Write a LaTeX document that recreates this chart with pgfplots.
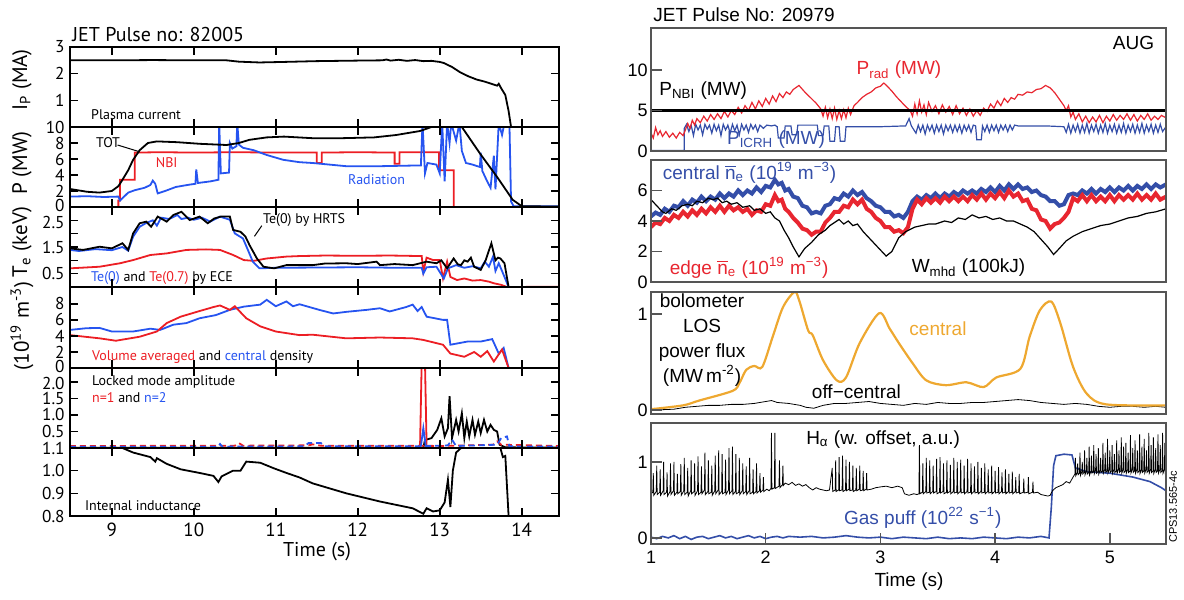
\documentclass[border=0pt]{standalone}
\usepackage{fontspec}
\setmainfont{Liberation Sans}
\newfontfamily\myr{PT Sans}
\usepackage{pgfplots}
\pgfplotsset{compat=1.18}
\definecolor{jred}{RGB}{236,30,36}
\definecolor{jblue}{RGB}{38,84,240}
\definecolor{ared}{RGB}{232,38,48}
\definecolor{ablue}{RGB}{52,78,168}
\definecolor{aorange}{RGB}{238,168,48}
\definecolor{agray}{RGB}{85,85,85}
\newcommand{\nb}{\ensuremath{\overline{\mbox{n}}}}
\pgfplotsset{
  lp/.style={scale only axis, width=244.5pt, anchor=south west,
    xmin=8.49, xmax=14.455, xtick={9,10,11,12,13,14}, xticklabels={},
    tick align=inside, tick pos=both, ticklabel pos=left, major tick length=4pt,
    axis line style={line width=1.1pt}, tick style={black, line width=0.8pt},
    yticklabel style={font=\myr\fontsize{8.6}{8.6}\selectfont, inner sep=0pt, xshift=-2.5pt},
    axis on top},
  rp/.style={scale only axis, width=257.5pt, anchor=south west,
    xmin=1, xmax=5.49, xtick=\empty, ytick pos=left, tick align=inside,
    major tick length=5.5pt, axis line style={agray, line width=0.7pt},
    tick style={agray, line width=0.7pt},
    yticklabel style={font=\fontsize{9}{10}\selectfont, inner sep=1.5pt},
    axis on top},
  upl/.style={extra y tick style={yticklabel style={yshift=1pt}}},
  dnl/.style={extra y tick style={yticklabel style={yshift=-1pt}}},
}
\tikzset{
  lt/.style={font=\myr\fontsize{7}{8}\selectfont, inner sep=0pt},
  rt/.style={font=\fontsize{9.5}{11}\selectfont, inner sep=0pt},
}
\begin{document}
\begin{tikzpicture}
\useasboundingbox (0,0) rectangle (592pt,300pt);

% ---------------- left figure ----------------
\node[anchor=west, font=\myr\fontsize{10}{12}\selectfont, inner sep=0pt] at (36pt,282.5pt) {JET Pulse no: 82005};
\node[rotate=90, font=\myr\fontsize{10.5}{12}\selectfont] at (11pt,260pt) {I\textsubscript{P} (MA)};
\node[rotate=90, font=\myr\fontsize{10.5}{12}\selectfont] at (11pt,218.5pt) {P (MW)};
\node[rotate=90, font=\myr\fontsize{10.5}{12}\selectfont] at (11pt,179pt) {T\textsubscript{e} (keV)};
\node[rotate=90, font=\myr\fontsize{10.5}{12}\selectfont] at (11pt,137pt) {(10\textsuperscript{19} m\textsuperscript{-3})};
\node[font=\myr\fontsize{10}{12}\selectfont] at (158.5pt,24pt) {Time (s)};

\begin{axis}[lp, at={(35pt,236.5pt)}, height=40pt, ymin=0, ymax=3, ytick={1,2,3}, yticklabels={1,2,3}]
\addplot[black, line width=0.9pt] coordinates {(8.49,2.5)(9.0,2.5)(9.5,2.51)(10.0,2.5)(10.4,2.5)(10.55,2.45)(10.8,2.42)(11.1,2.44)(11.5,2.47)(12.0,2.49)(12.3,2.5)(12.35,2.53)(12.4,2.49)(12.5,2.52)(12.6,2.48)(12.7,2.51)(12.8,2.47)(12.9,2.48)(13.0,2.44)(13.05,2.4)(13.15,2.25)(13.25,2.05)(13.35,1.9)(13.45,1.78)(13.55,1.7)(13.65,1.6)(13.7,1.55)(13.72,1.62)(13.75,1.45)(13.8,1.2)(13.84,0.6)(13.87,0)(14.455,0)};
\node[lt, anchor=west] at (axis cs:8.744,0.45) {Plasma current};
\end{axis}

\begin{axis}[lp, upl, at={(35pt,196.5pt)}, height=40pt, ymin=0, ymax=10, ytick={2,4,6,8,10}, yticklabels={2,4,6,8,10}, extra y ticks={0}, extra y tick labels={0}]
\addplot[jred, line width=0.9pt] coordinates {(8.49,0)(9.08,0)(9.08,0.8)(9.1,0.8)(9.1,3.4)(9.28,3.4)(9.28,6.8)(9.6,6.85)(10.0,6.8)(10.5,6.85)(11.0,6.8)(11.5,6.8)(11.5,5.5)(11.56,5.5)(11.56,6.8)(12.0,6.85)(12.45,6.8)(12.45,5.4)(12.51,5.4)(12.51,6.85)(12.99,6.85)(12.99,4.6)(13.17,4.6)(13.17,0)(14.455,0)};
\addplot[jblue, line width=0.9pt] coordinates {(8.49,1.3)(8.7,1.35)(8.9,1.25)(9.08,1.3)(9.1,0.8)(9.2,1.8)(9.28,2.1)(9.4,2.4)(9.47,2.75)(9.5,3.3)(9.53,2.9)(9.56,1.7)(9.65,2.0)(9.78,2.5)(9.95,2.8)(10.02,2.9)(10.03,4.7)(10.05,3.0)(10.2,3.2)(10.3,3.4)(10.31,10.5)(10.33,4.2)(10.43,4.3)(10.44,8.0)(10.47,7.3)(10.52,7.6)(10.53,10.5)(10.55,7.8)(10.6,7.4)(10.73,7.1)(10.89,6.5)(11.09,5.9)(11.29,5.6)(11.45,5.5)(11.86,5.1)(12.27,5.1)(12.77,5.2)(12.79,10.5)(12.82,4.2)(12.85,5.5)(12.96,5.3)(13.0,4.2)(13.03,10.5)(13.06,3.2)(13.09,10.5)(13.12,8)(13.14,10.5)(13.2,8.3)(13.24,10.5)(13.27,7)(13.32,5.5)(13.4,5.3)(13.49,5.0)(13.5,6.8)(13.52,4.5)(13.57,3.4)(13.62,2.4)(13.66,6.4)(13.68,2.2)(13.72,10.5)(13.76,9)(13.79,10.5)(13.85,10.5)(13.87,0.7)(13.9,0.1)(14.455,0.1)};
\addplot[black, line width=0.9pt] coordinates {(8.49,2.25)(8.7,1.9)(8.85,1.8)(9.0,2.0)(9.08,2.6)(9.13,3.4)(9.2,4.6)(9.26,5.9)(9.34,7.1)(9.44,8.0)(9.55,8.2)(9.8,8.1)(10.07,7.9)(10.4,7.75)(10.55,8.0)(10.68,8.4)(10.89,8.7)(11.1,8.8)(11.45,8.6)(11.8,8.6)(12.2,8.7)(12.47,9.0)(12.76,9.5)(12.9,10.0)(13.0,10.4)(13.2,10.4)(13.27,10)(13.49,6.7)(13.7,3.75)(13.89,0.9)(14.0,0.1)(14.455,0.05)};
\node[lt, anchor=west] at (axis cs:8.805,8.0) {TOT};
\draw[black, line width=0.5pt] (axis cs:9.07,7.75) -- (axis cs:9.34,6.9);
\node[lt, text=jred] at (axis cs:9.67,5.5) {NBI};
\node[lt, text=jblue] at (axis cs:12.23,3.4) {Radiation};
\end{axis}

\begin{axis}[lp, dnl, at={(35pt,156.5pt)}, height=40pt, ymin=0, ymax=3, ytick={0.5,1,1.5,2}, yticklabels={0.5,,1.5,}, extra y ticks={2.5}, extra y tick labels={2.5}]
\addplot[jred, line width=0.9pt] coordinates {(8.49,0.7)(8.85,0.76)(9.1,0.89)(9.26,1.01)(9.47,1.2)(9.67,1.26)(9.91,1.39)(10.15,1.41)(10.32,1.39)(10.48,1.2)(10.61,1.01)(10.73,0.98)(10.89,1.07)(11.13,1.14)(11.29,1.16)(11.6,1.18)(12.0,1.17)(12.4,1.18)(12.78,1.16)(12.8,0.57)(12.84,1.1)(12.92,1.01)(13.0,1.01)(13.04,0.32)(13.09,0.95)(13.13,0.38)(13.21,0.26)(13.3,0.32)(13.4,0.24)(13.5,0.26)(13.6,0.2)(13.66,0.14)(13.75,0.08)(13.82,0)(14.455,0.01)};
\addplot[jblue, line width=0.9pt] coordinates {(8.49,1.39)(8.6,1.35)(8.8,1.42)(9.0,1.38)(9.13,1.5)(9.2,1.36)(9.26,1.89)(9.34,2.26)(9.42,2.4)(9.5,2.5)(9.55,2.3)(9.6,2.6)(9.7,2.55)(9.8,2.7)(9.85,2.55)(9.93,2.6)(10.0,2.52)(10.1,2.6)(10.2,2.45)(10.32,2.64)(10.44,2.52)(10.5,2.01)(10.6,1.82)(10.66,1.39)(10.72,0.95)(10.8,0.7)(11.0,0.72)(11.5,0.73)(12.0,0.74)(12.5,0.72)(12.78,0.72)(12.8,0.5)(12.84,0.74)(12.96,0.76)(13.05,0.32)(13.1,0.7)(13.2,0.82)(13.3,0.72)(13.4,0.78)(13.5,0.7)(13.55,0.95)(13.6,0.76)(13.65,1.14)(13.68,0.6)(13.72,0.89)(13.76,0.6)(13.8,0.3)(13.84,0)(14.455,0)};
\addplot[black, line width=0.9pt] coordinates {(8.49,1.45)(8.65,1.39)(8.85,1.51)(9.0,1.45)(9.13,1.64)(9.2,1.39)(9.26,2.01)(9.34,2.39)(9.42,2.45)(9.48,2.26)(9.56,2.64)(9.67,2.45)(9.75,2.7)(9.85,2.82)(9.95,2.51)(10.07,2.64)(10.17,2.39)(10.25,2.57)(10.33,2.64)(10.44,2.64)(10.48,2.14)(10.57,2.07)(10.63,1.89)(10.68,1.57)(10.77,1.07)(10.85,0.76)(10.98,0.7)(11.13,0.82)(11.29,0.82)(11.45,0.82)(11.6,0.88)(11.86,0.89)(12.0,0.86)(12.23,0.95)(12.27,0.82)(12.45,0.86)(12.67,0.82)(12.84,0.95)(12.96,0.89)(13.02,1.0)(13.09,0.7)(13.17,1.07)(13.22,0.85)(13.26,0.82)(13.3,1.0)(13.34,0.95)(13.38,1.1)(13.42,0.76)(13.5,0.64)(13.56,1.0)(13.63,1.64)(13.68,1.0)(13.71,1.1)(13.74,1.07)(13.79,0.89)(13.84,0)(14.455,0)};
\node[lt, anchor=west] at (axis cs:10.84,2.51) {Te(0) by HRTS};
\draw[black, line width=0.5pt] (axis cs:10.83,2.3) -- (axis cs:10.74,1.9);
\node[lt, anchor=west] at (axis cs:8.744,0.34) {\textcolor{jblue}{Te(0)} and \textcolor{jred}{Te(0.7)} by ECE};
\end{axis}

\begin{axis}[lp, upl, at={(35pt,116pt)}, height=40.5pt, ymin=0, ymax=10.1, ytick={2,4,6,8}, yticklabels={2,4,6,8}, extra y ticks={0}, extra y tick labels={0}]
\addplot[jblue, line width=0.9pt] coordinates {(8.49,4.75)(8.69,4.96)(8.85,5.0)(9.0,4.55)(9.26,4.55)(9.47,4.9)(9.59,4.75)(9.75,5.4)(9.91,5.6)(10.07,6.2)(10.27,6.6)(10.44,7.25)(10.61,7.65)(10.81,7.9)(10.89,8.5)(11.0,7.7)(11.13,8.3)(11.21,7.7)(11.29,7.95)(11.53,7.25)(11.7,6.8)(11.86,7.0)(12.11,7.25)(12.27,7.45)(12.39,7.05)(12.59,7.6)(12.67,7.9)(12.73,7.1)(12.78,7.6)(12.84,6.4)(13.04,6.0)(13.09,6.0)(13.13,2.9)(13.34,3.3)(13.5,3.3)(13.64,3.6)(13.72,1.8)(13.78,2.5)(13.84,0)(14.455,0)};
\addplot[jred, line width=0.9pt] coordinates {(8.49,4.1)(8.85,3.7)(9.05,3.4)(9.34,3.9)(9.55,4.55)(9.67,5.6)(9.84,6.4)(10.07,7.1)(10.24,7.6)(10.32,7.8)(10.44,7.25)(10.5,7.7)(10.64,6.2)(10.81,5.2)(11.0,4.55)(11.29,4.1)(11.45,4.15)(11.86,3.7)(12.27,3.8)(12.67,3.7)(12.8,3.5)(13.04,2.9)(13.13,1.8)(13.3,1.4)(13.42,2.0)(13.5,1.4)(13.58,2.1)(13.66,0.8)(13.76,2.3)(13.84,0)(14.455,0)};
\node[lt, anchor=west] at (axis cs:8.756,1.4) {\textcolor{jred}{Volume averaged} and \textcolor{jblue}{central} density};
\end{axis}

\begin{axis}[lp, dnl, at={(35pt,76pt)}, height=40pt, ymin=0, ymax=2.42, ytick={0.5,1,1.5}, yticklabels={0.5,1.0,1.5}, extra y ticks={2}, extra y tick labels={2.0}]
\addplot[black, line width=0.9pt] coordinates {(8.49,0.01)(12.8,0.01)(12.82,0.24)(12.9,0.3)(12.97,0.55)(13.02,0.9)(13.06,0.35)(13.1,0.6)(13.12,1.57)(13.15,0.3)(13.2,0.85)(13.23,0.5)(13.27,1.05)(13.3,0.3)(13.33,0.8)(13.36,0.35)(13.4,0.85)(13.43,0.4)(13.47,0.8)(13.5,0.45)(13.54,0.85)(13.58,0.5)(13.62,0.7)(13.66,0.55)(13.7,0.5)(13.73,0.1)(13.8,0.02)(14.455,0.01)};
\addplot[jred, line width=0.9pt, densely dashed] coordinates {(8.49,0.06)(10.5,0.07)(10.55,0.15)(10.6,0.07)(11.4,0.08)(11.45,0.11)(11.55,0.07)(12.76,0.07)(13.0,0.06)(13.65,0.1)(13.7,0.2)(13.75,0.1)(14.455,0.06)};
\addplot[jred, line width=0.9pt] coordinates {(12.76,0.07)(12.78,2.6)(12.82,2.6)(12.84,0.07)};
\addplot[jblue, line width=0.9pt, densely dashed] coordinates {(8.49,0.04)(10.3,0.04)(10.32,0.12)(10.35,0.04)(11.35,0.05)(11.4,0.15)(11.55,0.15)(11.6,0.05)(12.77,0.05)(13.1,0.08)(13.15,0.25)(13.2,0.06)(13.7,0.1)(13.75,0.3)(13.82,0.35)(13.85,0.05)(14.455,0.04)};
\addplot[jblue, line width=0.9pt] coordinates {(12.77,0.05)(12.8,0.6)(12.83,0.05)};
\node[lt, anchor=west] at (axis cs:8.756,2.0) {Locked mode amplitude};
\node[lt, anchor=west] at (axis cs:8.756,1.52) {\textcolor{jred}{n=1} and \textcolor{jblue}{n=2}};
\end{axis}

\begin{axis}[lp, at={(35pt,42pt)}, height=34pt, ymin=0.8, ymax=1.1, ytick={0.8,0.9,1.0,1.1}, yticklabels={0.8,0.9,1.0,1.1},
  xticklabels={9,10,11,12,13,14}, xticklabel style={font=\myr\fontsize{9.5}{10}\selectfont}]
\addplot[black, line width=0.9pt] coordinates {(8.49,1.1)(9.13,1.1)(9.26,1.08)(9.47,1.06)(9.53,1.04)(9.55,1.055)(9.67,1.03)(9.84,1.006)(10.07,0.99)(10.24,0.977)(10.3,0.95)(10.34,0.975)(10.48,1.0)(10.57,1.0)(10.64,1.04)(10.81,1.035)(10.98,1.01)(11.13,0.99)(11.29,0.97)(11.45,0.944)(11.86,0.9)(12.27,0.864)(12.67,0.834)(12.8,0.81)(12.84,0.834)(12.92,0.82)(13.0,0.825)(13.06,0.86)(13.1,0.96)(13.13,0.84)(13.16,1.0)(13.2,1.08)(13.26,1.1)(13.74,1.1)(13.77,1.06)(13.8,1.065)(13.84,0.8)};
\node[lt, anchor=west] at (axis cs:8.67,0.845) {Internal inductance};
\end{axis}

% ---------------- right figure ----------------
\node[anchor=west, font=\fontsize{9.5}{11}\selectfont, inner sep=0pt] at (326.5pt,292.5pt) {JET Pulse No: 20979};
\node[font=\fontsize{9.5}{11}\selectfont] at (454.5pt,9pt) {Time (s)};
\node[rotate=90, font=\fontsize{5.5}{6}\selectfont] at (586.5pt,46.5pt) {CPS13.565-4c};

\begin{axis}[rp, at={(325.5pt,224.5pt)}, height=61.5pt, ymin=0, ymax=15.2, ytick={0,5,10}, yticklabels={0,5,10}]
\addplot[ablue, line width=0.6pt] coordinates {(1.00,0.05)(1.29,0.05)(1.29,2.8)(1.31,3.3)(1.33,2.4)(1.35,3.2)(1.37,1.9)(1.39,3.3)(1.41,2.6)(1.43,3.2)(1.45,2.0)(1.47,3.3)(1.49,2.7)(1.51,3.2)(1.53,2.2)(1.55,3.3)(1.57,2.5)(1.59,3.2)(1.61,1.9)(1.63,3.3)(1.65,2.6)(1.67,3.2)(1.69,2.2)(1.71,3.3)(1.73,2.5)(1.75,3.2)(1.77,2.0)(1.79,3.3)(1.81,2.6)(1.83,3.2)(1.85,2.3)(1.87,3.3)(1.89,2.7)(1.91,3.2)(1.93,2.4)(1.95,3.2)(1.98,2.8)(2.01,3.2)(2.05,3.1)(2.08,3.2)(2.10,3.0)(2.11,1.6)(2.16,1.6)(2.17,3.1)(2.22,3.1)(2.23,2.0)(2.27,2.0)(2.28,3.2)(2.45,3.2)(2.46,1.9)(2.50,1.9)(2.51,3.1)(2.55,3.1)(2.56,1.2)(2.60,1.2)(2.61,3.0)(2.64,3.0)(2.65,1.2)(2.69,1.2)(2.70,3.0)(3.0,3.0)(3.22,3.1)(3.25,4.0)(3.27,3.1)(3.31,2.2)(3.33,3.2)(3.35,2.4)(3.37,3.2)(3.39,2.1)(3.41,3.2)(3.43,2.5)(3.45,3.2)(3.47,2.2)(3.49,3.2)(3.51,2.4)(3.53,3.2)(3.55,2.1)(3.57,3.2)(3.59,2.5)(3.61,3.2)(3.63,2.3)(3.65,3.2)(3.67,2.4)(3.69,3.2)(3.71,2.2)(3.73,3.2)(3.75,2.5)(3.77,3.2)(3.79,2.3)(3.81,3.2)(3.83,3.1)(3.84,1.4)(3.88,1.4)(3.89,3.1)(3.91,2.4)(3.93,3.2)(3.95,2.3)(3.97,3.2)(3.99,2.5)(4.01,3.2)(4.03,2.3)(4.05,3.2)(4.07,2.6)(4.09,3.2)(4.11,2.4)(4.13,3.2)(4.15,2.6)(4.17,3.2)(4.2,3.1)(4.44,3.1)(4.6,3.0)(4.62,2.3)(4.64,3.3)(4.66,2.2)(4.68,3.2)(4.70,2.4)(4.72,3.3)(4.74,2.2)(4.76,3.2)(4.78,2.3)(4.80,3.4)(4.82,2.2)(4.84,3.2)(4.86,2.4)(4.88,3.3)(4.90,2.2)(4.92,3.2)(4.94,2.3)(4.96,3.4)(4.98,2.2)(5.00,3.2)(5.02,2.4)(5.04,3.3)(5.06,2.2)(5.08,3.2)(5.10,2.3)(5.12,3.4)(5.14,2.2)(5.16,3.2)(5.18,2.4)(5.20,3.3)(5.22,2.2)(5.24,3.2)(5.26,2.3)(5.28,3.4)(5.30,2.2)(5.32,3.2)(5.34,2.4)(5.36,3.3)(5.38,2.2)(5.40,3.2)(5.42,2.3)(5.44,3.3)(5.46,2.4)(5.49,3.0)};
\addplot[ared, line width=0.6pt] coordinates {(1.00,2.2)(1.02,1.6)(1.04,2.9)(1.06,2.0)(1.08,2.5)(1.10,1.8)(1.13,2.4)(1.16,1.7)(1.19,2.2)(1.22,1.6)(1.25,2.3)(1.28,1.9)(1.30,2.6)(1.32,3.4)(1.34,2.8)(1.36,3.8)(1.38,3.2)(1.40,4.0)(1.43,3.5)(1.46,4.3)(1.49,3.7)(1.52,4.5)(1.55,3.9)(1.58,4.6)(1.61,4.0)(1.64,4.9)(1.67,4.2)(1.70,5.0)(1.73,4.5)(1.76,5.4)(1.79,4.7)(1.82,5.6)(1.85,5.0)(1.88,6.0)(1.91,5.2)(1.94,6.2)(1.97,5.5)(2.00,6.5)(2.03,5.8)(2.06,6.8)(2.09,6.1)(2.12,7.1)(2.15,6.6)(2.18,7.3)(2.21,7.0)(2.24,7.6)(2.29,8.1)(2.34,7.3)(2.39,6.6)(2.44,5.9)(2.48,5.2)(2.50,4.3)(2.52,5.4)(2.54,4.1)(2.56,5.2)(2.58,4.0)(2.60,5.3)(2.62,3.9)(2.64,5.0)(2.66,4.0)(2.68,5.1)(2.70,4.1)(2.72,5.3)(2.74,4.5)(2.77,5.6)(2.80,6.0)(2.84,6.6)(2.88,7.0)(2.92,7.3)(2.96,7.8)(3.00,8.0)(3.03,8.4)(3.06,8.0)(3.10,7.4)(3.14,6.7)(3.18,6.1)(3.22,5.5)(3.26,5.0)(3.28,4.3)(3.30,5.8)(3.32,4.6)(3.34,6.2)(3.36,4.8)(3.38,5.7)(3.40,4.5)(3.42,6.0)(3.45,4.9)(3.48,5.6)(3.51,4.6)(3.54,5.7)(3.57,4.8)(3.60,5.5)(3.63,4.5)(3.66,5.6)(3.69,4.6)(3.72,5.3)(3.75,4.4)(3.78,5.2)(3.81,4.3)(3.84,5.0)(3.87,4.4)(3.90,5.3)(3.93,4.9)(3.96,5.8)(3.99,5.3)(4.02,6.2)(4.05,5.6)(4.08,6.5)(4.11,6.0)(4.14,6.6)(4.17,6.4)(4.20,7.0)(4.24,6.9)(4.28,7.3)(4.32,7.2)(4.36,7.6)(4.40,7.7)(4.44,8.1)(4.48,7.8)(4.52,7.2)(4.56,6.4)(4.60,5.6)(4.62,5.0)(4.64,5.6)(4.66,4.2)(4.68,4.8)(4.70,3.9)(4.73,4.6)(4.76,3.6)(4.79,4.3)(4.82,3.5)(4.85,4.2)(4.88,3.6)(4.91,4.4)(4.94,3.5)(4.97,4.3)(5.00,3.7)(5.03,4.5)(5.06,3.8)(5.09,4.4)(5.12,3.9)(5.15,4.6)(5.18,3.8)(5.21,4.5)(5.24,3.7)(5.27,4.4)(5.30,3.9)(5.33,4.6)(5.36,3.8)(5.39,4.3)(5.42,3.9)(5.45,4.4)(5.49,4.1)};
\addplot[black, line width=1.1pt] coordinates {(1,5)(5.49,5)};
\node[rt, anchor=west] at (axis cs:1.07,7.5) {P\textsubscript{NBI} (MW)};
\node[rt, anchor=west, text=ared] at (axis cs:2.79,10) {P\textsubscript{rad} (MW)};
\node[rt, anchor=west, text=ablue] at (axis cs:1.66,1.4) {P\textsubscript{ICRH} (MW)};
\node[rt, anchor=east] at (axis cs:5.39,13.3) {AUG};
\end{axis}

\begin{axis}[rp, at={(325.5pt,159pt)}, height=61pt, ymin=0, ymax=8, ytick={0,2,4,6}, yticklabels={0,2,4,6}]
\addplot[ablue, line width=2pt] coordinates {(1.00,4.3)(1.04,4.55)(1.08,4.4)(1.12,4.8)(1.16,4.6)(1.20,5.0)(1.24,4.9)(1.28,5.3)(1.32,5.0)(1.36,5.4)(1.40,5.2)(1.44,5.6)(1.48,5.3)(1.52,5.6)(1.56,5.4)(1.60,5.8)(1.64,5.5)(1.68,5.8)(1.72,5.6)(1.76,6.0)(1.80,5.7)(1.84,6.0)(1.88,5.8)(1.92,6.2)(1.96,5.9)(2.00,6.3)(2.04,6.2)(2.08,6.7)(2.11,6.4)(2.14,6.5)(2.17,6.0)(2.20,6.1)(2.24,5.6)(2.28,5.5)(2.32,5.0)(2.36,4.9)(2.40,4.5)(2.44,4.6)(2.48,4.5)(2.52,5.0)(2.56,5.1)(2.60,5.5)(2.64,5.4)(2.68,5.8)(2.72,5.6)(2.76,6.0)(2.80,5.7)(2.84,5.9)(2.88,5.5)(2.92,5.3)(2.96,5.0)(3.00,4.9)(3.04,4.6)(3.08,4.6)(3.12,4.3)(3.16,4.4)(3.20,4.2)(3.24,4.6)(3.28,5.3)(3.32,5.6)(3.36,5.4)(3.40,5.7)(3.44,5.5)(3.48,5.8)(3.52,5.5)(3.56,5.8)(3.60,5.6)(3.64,5.9)(3.68,5.7)(3.72,6.0)(3.76,5.8)(3.80,6.0)(3.84,5.8)(3.88,6.1)(3.92,5.9)(3.96,6.2)(4.00,5.9)(4.04,6.3)(4.08,6.0)(4.12,6.4)(4.16,6.1)(4.20,6.4)(4.24,6.1)(4.28,6.2)(4.32,5.9)(4.36,6.0)(4.40,5.7)(4.44,5.6)(4.48,5.3)(4.52,5.3)(4.56,5.0)(4.60,5.1)(4.64,5.7)(4.68,5.8)(4.72,5.7)(4.76,6.0)(4.80,5.8)(4.84,6.1)(4.88,5.8)(4.92,6.1)(4.96,5.9)(5.00,6.2)(5.04,5.9)(5.08,6.2)(5.12,6.0)(5.16,6.3)(5.20,6.0)(5.24,6.3)(5.28,6.1)(5.32,6.4)(5.36,6.1)(5.40,6.4)(5.44,6.2)(5.49,6.4)};
\addplot[ared, line width=2pt] coordinates {(1.00,3.6)(1.04,3.9)(1.08,3.8)(1.12,4.2)(1.16,4.0)(1.20,4.4)(1.24,4.2)(1.28,4.6)(1.32,4.3)(1.36,4.7)(1.40,4.4)(1.44,4.8)(1.48,4.5)(1.52,4.9)(1.56,4.6)(1.60,5.0)(1.64,4.6)(1.68,5.0)(1.72,4.7)(1.76,4.9)(1.80,4.6)(1.84,4.8)(1.88,4.4)(1.92,4.7)(1.96,4.6)(2.00,5.1)(2.04,5.0)(2.08,5.7)(2.11,5.3)(2.14,5.4)(2.17,4.8)(2.20,4.6)(2.24,4.2)(2.28,3.9)(2.32,3.5)(2.36,3.4)(2.40,3.1)(2.44,3.3)(2.48,3.3)(2.52,3.9)(2.56,4.2)(2.60,4.6)(2.64,4.6)(2.68,5.0)(2.72,4.9)(2.76,5.4)(2.80,5.1)(2.84,5.4)(2.88,4.8)(2.92,4.6)(2.96,4.2)(3.00,4.0)(3.04,3.6)(3.08,3.6)(3.12,3.3)(3.16,3.4)(3.20,3.2)(3.24,3.6)(3.28,4.8)(3.32,5.4)(3.36,5.1)(3.40,5.5)(3.44,5.2)(3.48,5.5)(3.52,5.2)(3.56,5.6)(3.60,5.3)(3.64,5.6)(3.68,5.3)(3.72,5.6)(3.76,5.3)(3.80,5.7)(3.84,5.4)(3.88,5.8)(3.92,5.4)(3.96,5.8)(4.00,5.5)(4.04,5.9)(4.08,5.5)(4.12,6.0)(4.16,5.6)(4.20,5.8)(4.24,5.3)(4.28,5.4)(4.32,4.8)(4.36,4.7)(4.40,4.1)(4.44,4.0)(4.48,3.5)(4.52,3.8)(4.56,3.9)(4.60,4.2)(4.64,4.6)(4.68,5.5)(4.72,5.3)(4.76,5.7)(4.80,5.3)(4.84,5.7)(4.88,5.3)(4.92,5.6)(4.96,5.3)(5.00,5.7)(5.04,5.3)(5.08,5.7)(5.12,5.4)(5.16,5.7)(5.20,5.4)(5.24,5.8)(5.28,5.4)(5.32,5.7)(5.36,5.4)(5.40,5.8)(5.44,5.4)(5.49,5.6)};
\addplot[black, line width=0.6pt] coordinates {(1.00,5.4)(1.05,5.0)(1.10,4.6)(1.13,4.5)(1.18,4.8)(1.22,4.7)(1.27,5.0)(1.32,5.1)(1.36,5.0)(1.40,5.3)(1.45,5.2)(1.50,5.5)(1.54,5.4)(1.58,5.5)(1.62,5.2)(1.66,5.3)(1.70,5.1)(1.75,5.2)(1.80,4.9)(1.86,5.0)(1.90,4.7)(1.95,4.8)(2.00,4.5)(2.04,4.6)(2.08,4.2)(2.12,4.0)(2.16,3.4)(2.20,2.9)(2.24,2.3)(2.29,1.65)(2.34,2.2)(2.40,2.6)(2.46,3.1)(2.52,3.4)(2.56,3.7)(2.60,3.9)(2.64,4.1)(2.68,3.8)(2.72,4.0)(2.76,3.7)(2.80,3.8)(2.85,3.3)(2.90,2.9)(2.95,2.5)(3.00,2.1)(3.05,1.7)(3.10,2.0)(3.16,2.9)(3.22,3.3)(3.30,3.6)(3.36,3.7)(3.42,3.8)(3.48,3.8)(3.56,4.0)(3.62,3.9)(3.68,4.2)(3.74,4.1)(3.80,4.4)(3.86,4.2)(3.92,4.3)(3.98,4.1)(4.04,4.2)(4.10,4.0)(4.16,4.0)(4.22,3.8)(4.28,3.6)(4.34,3.3)(4.40,2.8)(4.46,2.3)(4.51,1.8)(4.56,2.2)(4.62,2.7)(4.68,3.0)(4.76,3.3)(4.84,3.5)(4.92,3.7)(5.00,3.8)(5.08,4.0)(5.16,4.2)(5.24,4.3)(5.32,4.5)(5.40,4.6)(5.49,4.8)};
\node[rt, anchor=west, text=ablue] at (axis cs:1.1,7.15) {central \nb\textsubscript{e} (10\textsuperscript{19} m\textsuperscript{−3})};
\node[rt, anchor=west, text=ared] at (axis cs:1.16,0.92) {edge \nb\textsubscript{e} (10\textsuperscript{19} m\textsuperscript{−3})};
\node[rt, anchor=west] at (axis cs:3.27,0.92) {W\textsubscript{mhd} (100kJ)};
\end{axis}

\begin{axis}[rp, at={(325.5pt,93pt)}, height=61pt, ymin=-0.04, ymax=1.23, ytick={0,1}, yticklabels={0,1}]
\addplot[black, line width=0.4pt] coordinates {(1.00,0)(1.10,0.005)(1.20,0.01)(1.30,0.03)(1.40,0.04)(1.50,0.05)(1.60,0.05)(1.70,0.06)(1.80,0.06)(1.90,0.07)(2.00,0.09)(2.05,0.1)(2.10,0.08)(2.20,0.07)(2.30,0.05)(2.35,0.03)(2.42,0.02)(2.50,0.05)(2.60,0.07)(2.70,0.07)(2.80,0.08)(2.90,0.09)(3.00,0.07)(3.10,0.06)(3.20,0.05)(3.30,0.07)(3.40,0.06)(3.50,0.08)(3.60,0.07)(3.70,0.07)(3.80,0.08)(3.90,0.08)(4.00,0.09)(4.10,0.1)(4.20,0.11)(4.30,0.1)(4.40,0.08)(4.50,0.07)(4.60,0.06)(4.70,0.07)(4.80,0.06)(4.90,0.04)(5.00,0.03)(5.10,0.04)(5.20,0.04)(5.30,0.03)(5.40,0.04)(5.49,0.03)};
\addplot[aorange, line width=1.1pt, smooth] coordinates {(1.0,0.01)(1.28,0.05)(1.42,0.1)(1.71,0.2)(1.77,0.28)(1.83,0.42)(1.9,0.46)(1.97,0.45)(2.06,0.76)(2.15,1.07)(2.25,1.23)(2.29,1.15)(2.37,0.83)(2.41,0.78)(2.5,0.52)(2.62,0.31)(2.7,0.34)(2.82,0.7)(2.99,1.01)(3.08,0.85)(3.16,0.7)(3.28,0.49)(3.4,0.31)(3.57,0.26)(3.75,0.29)(3.9,0.24)(4.01,0.34)(4.22,0.43)(4.3,0.76)(4.39,1.04)(4.49,1.13)(4.57,0.9)(4.68,0.45)(4.8,0.17)(4.97,0.06)(5.49,0.05)};
\node[rt, align=center, font=\fontsize{9.5}{12.5}\selectfont] at (axis cs:1.445,0.73) {bolometer\\LOS\\power flux\\(MW\,m\textsuperscript{-2})};
\node[rt, anchor=west, text=aorange] at (axis cs:3.25,0.85) {central};
\node[rt, anchor=west] at (axis cs:2.4,0.19) {off−central};
\end{axis}

\begin{axis}[rp, at={(325.5pt,28pt)}, height=60.5pt, ymin=-0.08, ymax=1.51, ytick={0,1}, yticklabels={0,1},
  xtick={1,2,3,4,5}, xtick pos=bottom, xticklabels={1,2,3,4,5}, xticklabel style={font=\fontsize{9}{10}\selectfont}]
\addplot[ablue, line width=0.8pt] coordinates {(1.00,0.01)(1.05,-0.01)(1.10,0.02)(1.15,0)(1.20,0.03)(1.25,-0.01)(1.30,0.02)(1.35,-0.02)(1.40,0.01)(1.45,0.02)(1.50,-0.01)(1.55,0.01)(1.60,0.03)(1.65,0)(1.70,0.02)(1.75,-0.01)(1.80,0.01)(1.85,0.03)(1.90,0)(1.95,0.02)(2.00,-0.01)(2.05,0.01)(2.10,0.02)(2.15,0)(2.20,0.02)(2.30,0.01)(2.40,0.02)(2.50,0)(2.60,0.01)(2.70,0.03)(2.80,0.01)(2.90,0)(3.00,0.01)(3.10,-0.01)(3.20,0.01)(3.30,0)(3.40,-0.01)(3.50,0.01)(3.60,-0.01)(3.70,0)(3.80,-0.01)(3.90,0.01)(4.00,0)(4.10,-0.01)(4.20,0.01)(4.30,0)(4.40,0.02)(4.47,0)(4.49,0.4)(4.51,0.95)(4.53,1.08)(4.60,1.10)(4.67,1.09)(4.70,0.92)(4.80,0.87)(5.00,0.85)(5.20,0.8)(5.35,0.74)(5.45,0.66)(5.49,0.62)};
\addplot[black, line width=0.4pt] coordinates {(1.000,.58)(1.016,.60)(1.020,.85)(1.024,.56)(1.046,.61)(1.050,.95)(1.054,.57)(1.076,.60)(1.080,.90)(1.084,.56)(1.106,.62)(1.110,1.00)(1.114,.57)(1.136,.60)(1.140,.86)(1.144,.55)(1.166,.61)(1.170,.98)(1.174,.57)(1.196,.62)(1.200,1.00)(1.204,.56)(1.226,.60)(1.230,.84)(1.234,.58)(1.256,.61)(1.260,.97)(1.264,.56)(1.286,.62)(1.290,1.05)(1.294,.57)(1.316,.60)(1.320,.92)(1.324,.55)(1.346,.62)(1.350,1.02)(1.354,.58)(1.376,.61)(1.380,.98)(1.384,.56)(1.406,.62)(1.410,1.07)(1.414,.57)(1.436,.60)(1.440,.94)(1.444,.58)(1.466,.63)(1.470,1.12)(1.474,.57)(1.496,.61)(1.500,1.02)(1.504,.58)(1.526,.60)(1.530,.95)(1.534,.56)(1.556,.62)(1.560,1.08)(1.564,.58)(1.586,.63)(1.590,1.15)(1.594,.57)(1.616,.61)(1.620,1.10)(1.624,.58)(1.646,.60)(1.650,1.03)(1.654,.57)(1.676,.63)(1.680,1.18)(1.684,.58)(1.706,.62)(1.710,1.20)(1.714,.57)(1.736,.61)(1.740,1.10)(1.744,.58)(1.766,.60)(1.770,1.05)(1.774,.57)(1.796,.62)(1.800,.98)(1.804,.58)(1.826,.61)(1.830,.94)(1.834,.57)(1.856,.62)(1.860,1.05)(1.864,.58)(1.886,.60)(1.890,.90)(1.894,.58)(1.916,.61)(1.920,.98)(1.924,.59)(1.946,.62)(1.950,.85)(1.954,.60)(1.976,.63)(1.980,.80)(1.984,.61)(2.010,.64)(2.030,.62)(2.046,.65)(2.050,1.38)(2.054,.64)(2.076,.66)(2.080,1.38)(2.084,.65)(2.116,.68)(2.120,1.02)(2.124,.66)(2.146,.70)(2.150,.95)(2.154,.69)(2.17,.72)(2.20,.70)(2.23,.73)(2.26,.69)(2.29,.71)(2.32,.68)(2.35,.70)(2.38,.66)(2.41,.63)(2.44,.66)(2.47,.64)(2.50,.63)(2.53,.62)(2.556,.63)(2.580,.92)(2.584,.61)(2.606,.63)(2.610,1.02)(2.614,.61)(2.636,.63)(2.640,1.06)(2.644,.62)(2.666,.63)(2.670,1.08)(2.674,.61)(2.696,.63)(2.700,1.03)(2.704,.62)(2.726,.64)(2.730,1.00)(2.734,.62)(2.756,.63)(2.760,.95)(2.764,.61)(2.786,.63)(2.790,.92)(2.794,.62)(2.816,.64)(2.820,.95)(2.824,.62)(2.846,.63)(2.850,.88)(2.854,.62)(2.876,.64)(2.880,.85)(2.884,.63)(2.92,.64)(2.96,.66)(3.00,.67)(3.05,.68)(3.10,.66)(3.15,.68)(3.19,.66)(3.21,.58)(3.25,.56)(3.29,.58)(3.32,.57)(3.336,.58)(3.340,1.22)(3.344,.58)(3.366,.60)(3.370,.98)(3.374,.58)(3.396,.61)(3.400,1.05)(3.404,.59)(3.426,.60)(3.430,1.02)(3.434,.58)(3.456,.61)(3.460,.95)(3.464,.59)(3.486,.61)(3.490,1.04)(3.494,.58)(3.516,.60)(3.520,1.06)(3.524,.59)(3.546,.61)(3.550,.98)(3.554,.58)(3.576,.60)(3.580,1.02)(3.584,.59)(3.606,.61)(3.610,.96)(3.614,.58)(3.636,.61)(3.640,1.05)(3.644,.59)(3.666,.60)(3.670,1.00)(3.674,.58)(3.696,.61)(3.700,1.03)(3.704,.59)(3.726,.60)(3.730,.95)(3.734,.58)(3.756,.61)(3.760,1.04)(3.764,.59)(3.786,.60)(3.790,.98)(3.794,.58)(3.816,.61)(3.820,.94)(3.824,.59)(3.846,.60)(3.850,1.00)(3.854,.58)(3.876,.61)(3.880,.92)(3.884,.59)(3.906,.60)(3.910,.98)(3.914,.58)(3.936,.61)(3.940,.90)(3.944,.59)(3.966,.60)(3.970,.95)(3.974,.58)(3.996,.61)(4.000,.88)(4.004,.59)(4.026,.60)(4.030,.93)(4.034,.58)(4.056,.61)(4.060,.86)(4.064,.59)(4.086,.60)(4.090,.90)(4.094,.58)(4.116,.61)(4.120,.84)(4.124,.59)(4.146,.60)(4.150,.87)(4.154,.58)(4.176,.61)(4.180,.80)(4.184,.59)(4.206,.60)(4.210,.84)(4.214,.58)(4.246,.60)(4.250,.78)(4.254,.59)(4.286,.60)(4.290,.80)(4.294,.58)(4.326,.60)(4.330,.74)(4.334,.59)(4.37,.60)(4.40,.57)(4.43,.56)(4.46,.55)(4.48,.56)(4.50,.62)(4.53,.66)(4.56,.68)(4.59,.70)(4.62,.74)(4.65,.72)(4.68,.80)(4.696,.84)(4.700,1.05)(4.704,.82)(4.716,.86)(4.720,.98)(4.724,.83)(4.736,.85)(4.740,1.12)(4.744,.82)(4.756,.87)(4.760,1.00)(4.764,.84)(4.776,.86)(4.780,1.15)(4.784,.83)(4.796,.88)(4.800,1.05)(4.804,.84)(4.816,.86)(4.820,1.20)(4.824,.83)(4.836,.88)(4.840,1.08)(4.844,.85)(4.856,.87)(4.860,1.22)(4.864,.84)(4.876,.89)(4.880,1.10)(4.884,.85)(4.896,.87)(4.900,1.18)(4.904,.84)(4.916,.89)(4.920,1.05)(4.924,.86)(4.936,.88)(4.940,1.25)(4.944,.85)(4.956,.90)(4.960,1.12)(4.964,.86)(4.976,.88)(4.980,1.30)(4.984,.85)(4.996,.90)(5.000,1.15)(5.004,.86)(5.016,.88)(5.020,1.22)(5.024,.85)(5.036,.90)(5.040,1.10)(5.044,.86)(5.056,.88)(5.060,1.28)(5.064,.85)(5.076,.90)(5.080,1.15)(5.084,.86)(5.096,.88)(5.100,1.32)(5.104,.85)(5.116,.90)(5.120,1.20)(5.124,.86)(5.136,.88)(5.140,1.25)(5.144,.85)(5.156,.90)(5.160,1.12)(5.164,.86)(5.176,.88)(5.180,1.35)(5.184,.85)(5.196,.90)(5.200,1.18)(5.204,.86)(5.216,.88)(5.220,1.28)(5.224,.85)(5.236,.90)(5.240,1.15)(5.244,.86)(5.256,.88)(5.260,1.36)(5.264,.85)(5.276,.90)(5.280,1.20)(5.284,.86)(5.296,.88)(5.300,1.30)(5.304,.85)(5.316,.90)(5.320,1.15)(5.324,.86)(5.336,.88)(5.340,1.38)(5.344,.85)(5.356,.90)(5.360,1.22)(5.364,.86)(5.376,.88)(5.380,1.32)(5.384,.85)(5.396,.90)(5.400,1.18)(5.404,.86)(5.416,.88)(5.420,1.36)(5.424,.85)(5.436,.90)(5.440,1.22)(5.444,.86)(5.456,.88)(5.460,1.38)(5.464,.85)(5.476,.90)(5.480,1.25)(5.484,.86)(5.49,.88)};
\node[rt, anchor=west] at (axis cs:2.35,1.29) {H\textsubscript{α} (w. offset, a.u.)};
\node[rt, anchor=west, text=ablue] at (axis cs:2.68,0.26) {Gas puff (10\textsuperscript{22} s\textsuperscript{−1})};
\end{axis}
\end{tikzpicture}
\end{document}
